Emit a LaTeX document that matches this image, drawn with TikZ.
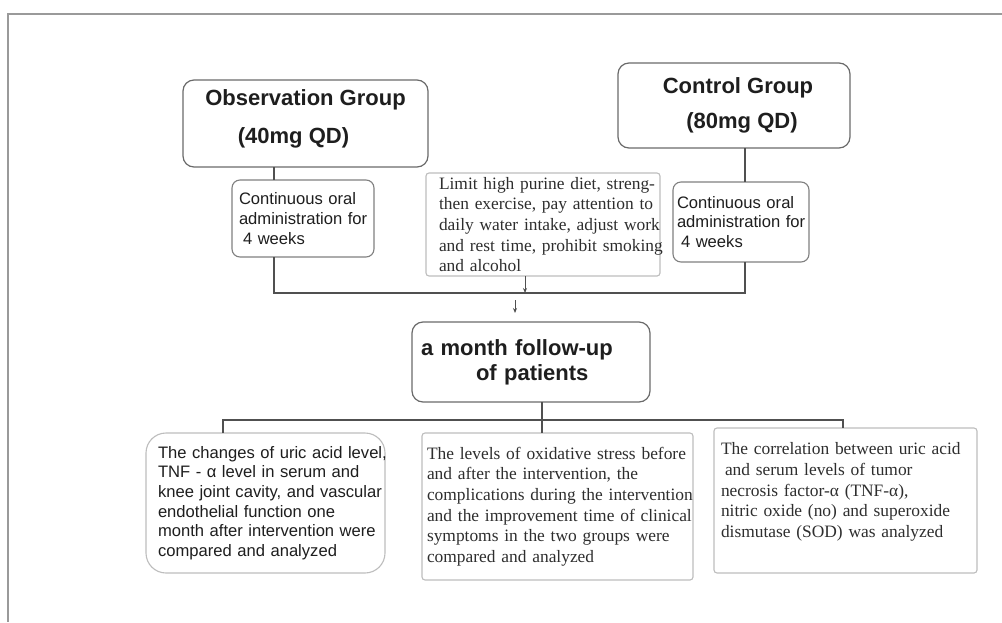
\documentclass[tikz,border=0pt]{standalone}
\usepackage{fontspec}
\setmainfont{Liberation Serif}
\setsansfont{Liberation Sans}
\usetikzlibrary{arrows.meta}
\definecolor{boxdark}{HTML}{6A6A6A}
\definecolor{boxmid}{HTML}{808080}
\definecolor{boxlight}{HTML}{BDBDBD}
\definecolor{conncol}{HTML}{505050}
\definecolor{framecol}{HTML}{9A9A9A}
\definecolor{txt}{HTML}{1E1E1E}
\definecolor{txtserif}{HTML}{2E2E2E}
\begin{document}
\begin{tikzpicture}[x=1pt,y=-1pt,
  titlebox/.style={draw=boxdark, line width=1.2pt, rounded corners=11pt, anchor=north west,
    align=center, inner sep=0pt, outer sep=0pt, text=txt,
    font=\fontsize{22}{38}\selectfont\sffamily\bfseries},
  sansbox/.style={draw=boxmid, line width=1.1pt, anchor=north west, align=left,
    inner ysep=0pt, outer sep=0pt, text=txt,
    font=\fontsize{16.6}{19.6}\selectfont\sffamily},
  serifbox/.style={draw=boxlight, line width=1.1pt, rounded corners=3pt, anchor=north west,
    align=left, inner ysep=0pt, outer sep=0pt, text=txtserif,
    font=\fontsize{17.4}{20.7}\selectfont\rmfamily},
  conn/.style={draw=conncol, line width=1.2pt},
  arr/.style={draw=conncol, line width=1pt, -{Stealth[length=5pt,width=4pt]}},
  framel/.style={draw=framecol, line width=1.4pt}
]
\useasboundingbox (0,0) rectangle (1002,622);
\fill[white] (0,0) rectangle (1002,622);
\draw[framel] (1002,14) -- (8,14) -- (8,622);

% top row
\node[titlebox, minimum width=245pt, minimum height=87pt] (obs) at (183,80)
  {Observation Group\\\mbox{(40mg QD)\hspace*{24pt}}\\[-24pt]\mbox{}};
\node[titlebox, minimum width=232pt, minimum height=85pt, font=\fontsize{22}{35}\selectfont\sffamily\bfseries] (cg) at (618,63)
  {\hspace*{8pt}Control Group\\\hspace*{16pt}(80mg QD)};

\node[sansbox, rounded corners=8pt, minimum height=77pt, text width=128pt, inner xsep=7pt] (lc) at (232,180)
  {\mbox{Continuous oral}\\\mbox{administration for}\\\mbox{\hspace*{4pt}4 weeks}};
\node[sansbox, rounded corners=8pt, minimum height=80pt, text width=128pt, inner xsep=4pt] (rc) at (673,182)
  {\mbox{Continuous oral}\\\mbox{administration for}\\\mbox{\hspace*{4pt}4 weeks}};

\node[serifbox, minimum height=103pt, text width=208pt, inner xsep=13pt] (lim) at (426,173)
  {\mbox{Limit high purine diet, streng-}\\\mbox{then exercise, pay attention to}\\\mbox{daily water intake, adjust work}\\\mbox{and rest time, prohibit smoking}\\\mbox{and alcohol}};

% follow-up
\node[titlebox, align=left, minimum height=80pt, text width=220pt, inner xsep=9pt, inner ysep=0pt,
  font=\fontsize{22}{25}\selectfont\sffamily\bfseries] (fu) at (412,322)
  {\mbox{a month follow-up}\\\mbox{\hspace*{55pt}of patients}};

% bottom row
\node[sansbox, draw=boxlight, rounded corners=20pt, minimum height=140pt, text width=215pt, inner xsep=12pt] (bl) at (146,433)
  {\mbox{The changes of uric acid level,}\\\mbox{TNF - α level in serum and}\\\mbox{knee joint cavity, and vascular}\\\mbox{endothelial function one}\\\mbox{month after intervention were}\\\mbox{compared and analyzed}};
\node[serifbox, minimum height=147pt, text width=261pt, inner xsep=5pt] (bm) at (422,433)
  {\mbox{The levels of oxidative stress before}\\\mbox{and after the intervention, the}\\\mbox{complications during the intervention}\\\mbox{and the improvement time of clinical}\\\mbox{symptoms in the two groups were}\\\mbox{compared and analyzed}};
\node[serifbox, minimum height=145pt, text width=249pt, inner xsep=7pt] (br) at (714,428)
  {\mbox{The correlation between uric acid}\\\mbox{\hspace*{4pt}and serum levels of tumor}\\\mbox{necrosis factor-α (TNF-α),}\\\mbox{nitric oxide (no) and superoxide}\\\mbox{dismutase (SOD) was analyzed}\\\mbox{}};

% connectors top
\coordinate (jL) at (274,293);
\coordinate (jR) at (745,293);
\coordinate (jA) at (525,293);
\coordinate (a1) at (515,300);
\draw[conn] (obs.south -| jL) -- (lc.north -| jL);
\draw[conn] (cg.south -| jR) -- (rc.north -| jR);
\draw[conn] (lc.south -| jL) -- (jL) -- (jR) -- (rc.south -| jR);
\draw[arr] (lim.south -| jA) -- (jA);
\draw[arr, shorten >=9pt] (a1) -- (fu.north -| a1);

% connectors bottom
\coordinate (bL) at (223,420);
\coordinate (bM) at (542,420);
\coordinate (bR) at (843,420);
\draw[conn] (fu.south -| bM) -- (bM);
\draw[conn] (bl.north -| bL) -- (bL) -- (bR) -- (br.north -| bR);
\draw[conn] (bM) -- (bm.north -| bM);
\end{tikzpicture}
\end{document}
